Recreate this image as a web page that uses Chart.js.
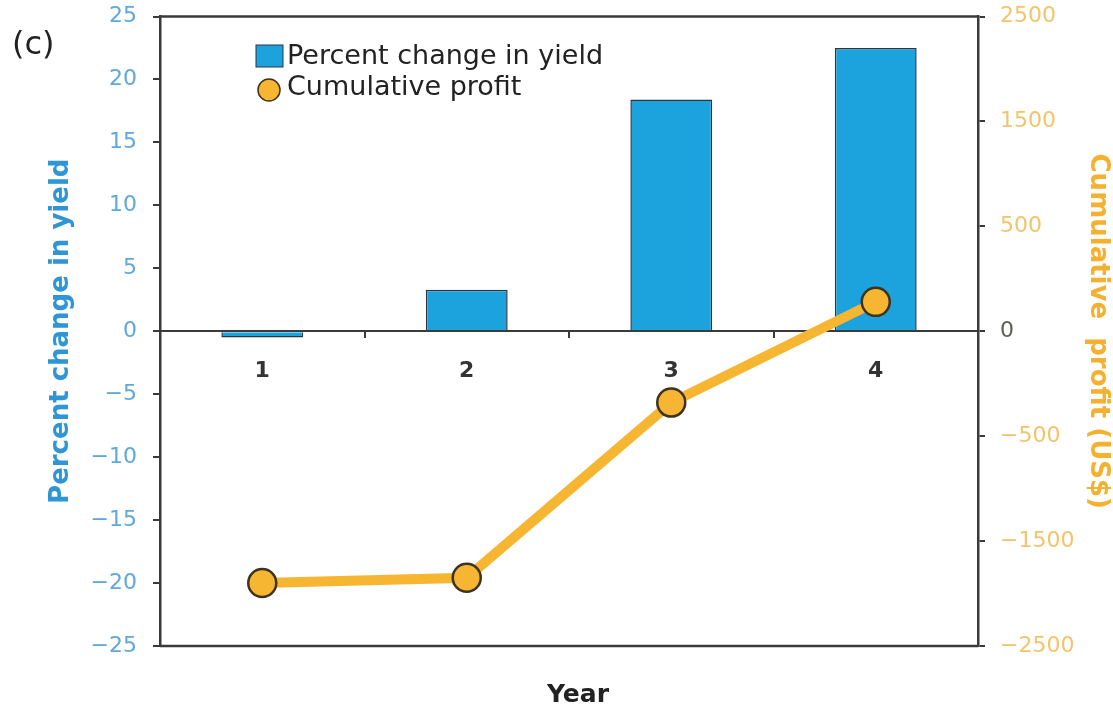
<!DOCTYPE html>
<html lang="en">
<head>
    <meta charset="UTF-8">
    <title>Percent change in yield and cumulative profit</title>
    <script src="https://cdn.jsdelivr.net/npm/chart.js"></script>
    <style>
        body {
            margin: 0;
            background-color: white;
        }

        .chart-box {
            width: 1113px;
            height: 713px;
        }
    </style>
</head>
<body>

    <div class="chart-box">
        <canvas id="yieldChart" width="1113" height="713"></canvas>
    </div>

    <script>
        // data
        var years = ['1', '2', '3', '4'];
        var yieldChange = [-0.5, 3.3, 18.4, 22.5];
        var cumulativeProfit = [-1900, -1850, -340, 140];

        // left axis ticks and right axis labels (right labels are evenly spaced)
        var yieldTicks = [-25, -20, -15, -10, -5, 0, 5, 10, 15, 20, 25];
        var profitTicks = [-2500, -1500, -500, 0, 500, 1500, 2500];

        var blue = '#1ca3dd';
        var orange = '#f6b632';
        var axisColor = '#3a3a3a';
        var font = 'DejaVu Sans';

        // position a profit value between the evenly spaced right-hand labels
        function profitToAxis(v) {
            for (var i = 0; i < profitTicks.length - 1; i++) {
                var a = profitTicks[i], b = profitTicks[i + 1];
                if (v <= b) return i + (v - a) / (b - a);
            }
            return profitTicks.length - 1;
        }

        function minusSign(v) {
            return String(v).replace('-', '\u2212');
        }

        var frame = {
            id: 'frame',
            afterDraw: function(chart) {
                var ctx = chart.ctx;
                var area = chart.chartArea;
                ctx.save();

                // top and bottom edges of the box
                ctx.strokeStyle = axisColor;
                ctx.lineWidth = 2.5;
                ctx.beginPath();
                ctx.moveTo(area.left, area.top);
                ctx.lineTo(area.right, area.top);
                ctx.moveTo(area.left, area.bottom);
                ctx.lineTo(area.right, area.bottom);
                ctx.stroke();

                // panel letter
                ctx.fillStyle = '#222';
                ctx.font = '32px "' + font + '"';
                ctx.textBaseline = 'middle';
                ctx.textAlign = 'left';
                ctx.fillText('(c)', 12, 46);

                // x axis title
                ctx.font = 'bold 25px "' + font + '"';
                ctx.textAlign = 'center';
                ctx.fillText('Year', 578, 695);

                // legend
                var bars = chart.data.datasets[0];
                var line = chart.data.datasets[1];
                ctx.font = '27px "' + font + '"';
                ctx.textAlign = 'left';

                ctx.fillStyle = bars.backgroundColor;
                ctx.fillRect(256, 45, 27, 22);
                ctx.strokeStyle = bars.borderColor;
                ctx.lineWidth = 1;
                ctx.strokeRect(256, 45, 27, 22);
                ctx.fillStyle = '#222';
                ctx.fillText(bars.label, 287, 57);

                ctx.beginPath();
                ctx.arc(269, 90, 11, 0, Math.PI * 2);
                ctx.fillStyle = line.pointBackgroundColor;
                ctx.fill();
                ctx.lineWidth = 1.5;
                ctx.strokeStyle = line.pointBorderColor;
                ctx.stroke();
                ctx.fillStyle = '#222';
                ctx.fillText(line.label, 287, 88);

                ctx.restore();
            }
        };

        function fitSide(width) {
            return function(scale) {
                scale.width = width;
                scale.paddingTop = 0;
                scale.paddingBottom = 0;
            };
        }

        var ctx = document.getElementById('yieldChart').getContext('2d');
        var yieldChart = new Chart(ctx, {
            data: {
                labels: years,
                datasets: [{
                    type: 'bar',
                    label: 'Percent change in yield',
                    data: yieldChange,
                    yAxisID: 'y',
                    backgroundColor: blue,
                    borderColor: '#2b3640',
                    borderWidth: 1.5,
                    barPercentage: 0.4,
                    categoryPercentage: 1,
                    order: 1
                }, {
                    type: 'line',
                    label: 'Cumulative profit',
                    data: cumulativeProfit.map(profitToAxis),
                    yAxisID: 'y1',
                    borderColor: orange,
                    borderWidth: 10,
                    pointRadius: 14,
                    pointBackgroundColor: orange,
                    pointBorderColor: '#3d3320',
                    pointBorderWidth: 2.5,
                    tension: 0,
                    clip: false,
                    order: 0
                }]
            },
            options: {
                responsive: false,
                animation: false,
                layout: {
                    padding: { top: 13, bottom: 67, left: 0, right: 0 }
                },
                plugins: {
                    legend: { display: false },
                    tooltip: { enabled: false }
                },
                scales: {
                    x: {
                        type: 'category',
                        position: { y: 0 },
                        offset: true,
                        grid: {
                            offset: true,
                            drawOnChartArea: false,
                            drawTicks: true,
                            tickLength: 6,
                            color: axisColor,
                            lineWidth: 2
                        },
                        border: { display: true, color: axisColor, width: 2 },
                        ticks: {
                            padding: 21,
                            color: '#333',
                            font: { family: font, size: 22, weight: 'bold' }
                        }
                    },
                    y: {
                        position: 'left',
                        min: -25,
                        max: 25,
                        afterFit: fitSide(160),
                        afterBuildTicks: function(scale) {
                            scale.ticks = yieldTicks.map(function(v) { return { value: v }; });
                        },
                        grid: {
                            drawOnChartArea: false,
                            tickLength: 7,
                            color: axisColor,
                            lineWidth: 2
                        },
                        border: { display: true, color: axisColor, width: 2.5 },
                        ticks: {
                            padding: 16,
                            color: '#5fa8dc',
                            font: { family: font, size: 22 },
                            callback: function(value) { return minusSign(value); }
                        },
                        title: {
                            display: true,
                            text: 'Percent change in yield',
                            color: '#2e95d6',
                            font: { family: font, size: 26, weight: 'bold' },
                            padding: { top: 46, bottom: 0 }
                        }
                    },
                    y1: {
                        position: 'right',
                        min: 0,
                        max: profitTicks.length - 1,
                        afterFit: fitSide(135),
                        afterBuildTicks: function(scale) {
                            scale.ticks = profitTicks.map(function(v, i) { return { value: i }; });
                        },
                        grid: {
                            drawOnChartArea: false,
                            tickLength: 7,
                            color: axisColor,
                            lineWidth: 2
                        },
                        border: { display: true, color: axisColor, width: 2.5 },
                        ticks: {
                            padding: 15,
                            color: function(c) {
                                return profitTicks[c.tick.value] === 0 ? '#5e5e50' : '#f2c46c';
                            },
                            font: { family: font, size: 22 },
                            callback: function(value) { return minusSign(profitTicks[value]); }
                        },
                        title: {
                            display: true,
                            text: 'Cumulative  profit (US$)',
                            color: '#f5b02e',
                            font: { family: font, size: 26, weight: 'bold' },
                            padding: { top: 0, bottom: 0 }
                        }
                    }
                }
            },
            plugins: [frame]
        });
    </script>

</body>
</html>
